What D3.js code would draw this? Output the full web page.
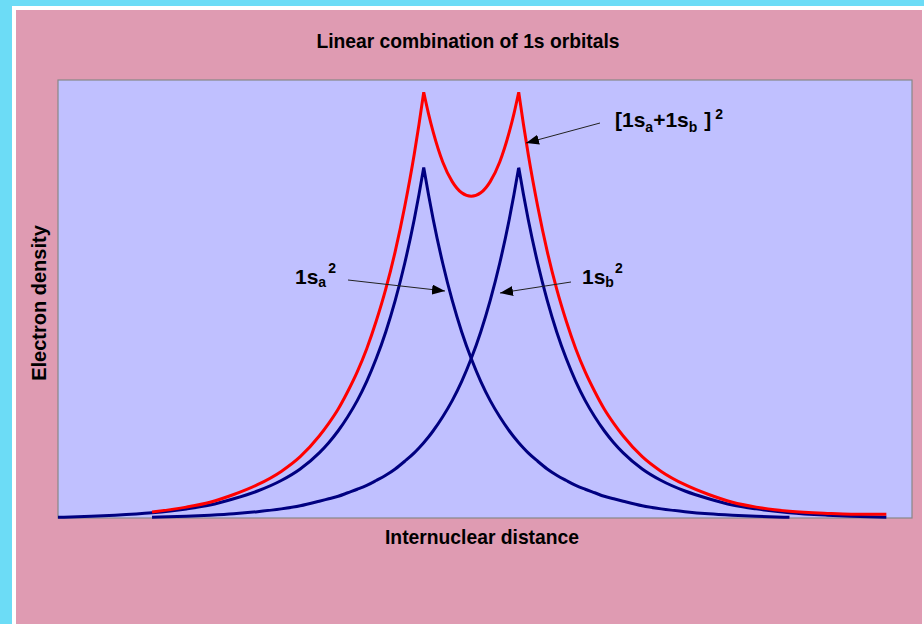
<!DOCTYPE html>
<html>
<head>
<meta charset="utf-8">
<script src="https://cdn.jsdelivr.net/npm/d3@7"></script>
<style>
  html, body { margin: 0; padding: 0; background: #6cdcf6; }
  svg { display: block; }
  text { font-family: "Liberation Sans", Arial, sans-serif; font-weight: bold; fill: #000; }
</style>
</head>
<body>
<svg id="chart" width="924" height="624"></svg>
<script>
// ---- data ----
const titleText = "Linear combination of 1s orbitals";
const xAxisLabel = "Internuclear distance";
const yAxisLabel = "Electron density";

// internuclear-axis positions (nuclei at -0.5 and +0.5)
const xPositions = [-4.35, -4.0, -3.75, -3.36, -3.0, -2.75, -2.5, -2.25, -2.0, -1.8, -1.6, -1.5, -1.4, -1.3, -1.2, -1.1,
  -1.0, -0.9, -0.8, -0.7, -0.6, -0.55, -0.5, -0.45, -0.4, -0.3, -0.2, -0.1, 0, 0.1, 0.2, 0.3, 0.4, 0.45, 0.5, 0.55,
  0.6, 0.7, 0.8, 0.9, 1.0, 1.1, 1.2, 1.3, 1.4, 1.5, 1.6, 1.8, 2.0, 2.25, 2.5, 2.75, 3.0, 3.35, 3.75, 4.0, 4.37];

const density1sA = [0.002, 0.005, 0.008, 0.015, 0.026, 0.037, 0.055, 0.077, 0.107, 0.140, 0.186, 0.215, 0.249, 0.289, 0.335, 0.390,
  0.455, 0.531, 0.621, 0.727, 0.852, 0.923, 1.0, 0.923, 0.852, 0.727, 0.621, 0.531, 0.455, 0.390, 0.335, 0.289, 0.249, 0.231, 0.215, 0.200,
  0.186, 0.162, 0.140, 0.122, 0.107, 0.093, 0.082, 0.072, 0.062, 0.055, 0.048, 0.035, 0.026, 0.018, 0.012, 0.008, 0.005, 0.002, null, null, null];

const density1sB = [null, null, null, 0.002, 0.005, 0.008, 0.012, 0.018, 0.026, 0.035, 0.048, 0.055, 0.062, 0.072, 0.082, 0.093,
  0.107, 0.122, 0.140, 0.162, 0.186, 0.200, 0.215, 0.231, 0.249, 0.289, 0.335, 0.390, 0.455, 0.531, 0.621, 0.727, 0.852, 0.923, 1.0, 0.923,
  0.852, 0.727, 0.621, 0.531, 0.455, 0.390, 0.335, 0.289, 0.249, 0.215, 0.186, 0.140, 0.107, 0.077, 0.055, 0.037, 0.026, 0.015, 0.008, 0.005, 0.002];

const densityCombined = [null, null, null, 0.017, 0.031, 0.045, 0.067, 0.095, 0.133, 0.175, 0.234, 0.270, 0.311, 0.361, 0.417, 0.483,
  0.562, 0.653, 0.761, 0.889, 1.038, 1.123, 1.215, 1.154, 1.101, 1.016, 0.960, 0.928, 0.918, 0.928, 0.960, 1.016, 1.101, 1.154, 1.215, 1.123,
  1.038, 0.889, 0.761, 0.653, 0.562, 0.483, 0.417, 0.361, 0.311, 0.270, 0.234, 0.175, 0.133, 0.095, 0.067, 0.045, 0.031, 0.019, 0.013, 0.011, 0.011];

const xDomain = [-4.35, 4.64];
const yDomain = [0, 1.25];

// ---- drawing ----
const svg = d3.select("#chart");
const W = 924, H = 624;

// frame: cyan page, white border line, pink panel
svg.append("rect").attr("x", 0).attr("y", 0).attr("width", W).attr("height", H).attr("fill", "#6cdcf6");
svg.append("rect").attr("x", 12).attr("y", 6).attr("width", W - 12).attr("height", H - 6).attr("fill", "#ffffff");
svg.append("rect").attr("x", 16).attr("y", 10).attr("width", 906).attr("height", H - 10).attr("fill", "#df9bb2");

const plot = { left: 58, top: 80, right: 912, bottom: 518 };
const x = d3.scaleLinear().domain(xDomain).range([plot.left, plot.right]);
const y = d3.scaleLinear().domain(yDomain).range([plot.bottom, plot.top]);

svg.append("rect")
  .attr("x", plot.left).attr("y", plot.top)
  .attr("width", plot.right - plot.left).attr("height", plot.bottom - plot.top)
  .attr("fill", "#c0c0ff").attr("stroke", "#888888").attr("stroke-width", 1.2);

// split a series at its cusps (local maxima) so each smooth piece is drawn with a monotone curve
function pieces(values) {
  const pts = xPositions.map((xp, i) => ({ x: xp, v: values[i] })).filter(d => d.v !== null);
  const out = [];
  let cur = [pts[0]];
  for (let i = 1; i < pts.length; i++) {
    cur.push(pts[i]);
    const isPeak = i < pts.length - 1 && pts[i].v > pts[i - 1].v && pts[i].v > pts[i + 1].v;
    if (isPeak) { out.push(cur); cur = [pts[i]]; }
  }
  out.push(cur);
  return out;
}
const line = d3.line()
  .x(d => x(d.x))
  .y(d => y(d.v))
  .curve(d3.curveMonotoneX);

function drawSeries(values, color) {
  const path = pieces(values).map(p => line(p)).join("");
  svg.append("path").attr("d", path).attr("fill", "none")
    .attr("stroke", color).attr("stroke-width", 3)
    .attr("stroke-linejoin", "miter").attr("stroke-linecap", "butt");
}
drawSeries(density1sA, "#000080");
drawSeries(density1sB, "#000080");
drawSeries(densityCombined, "#ff0000");

// titles
svg.append("text").attr("x", 468).attr("y", 48).attr("text-anchor", "middle")
  .style("font-size", "19.3px").text(titleText);
svg.append("text").attr("x", 482).attr("y", 544).attr("text-anchor", "middle")
  .style("font-size", "19.3px").text(xAxisLabel);
svg.append("text").attr("transform", "translate(46,303) rotate(-90)").attr("text-anchor", "middle")
  .style("font-size", "20px").text(yAxisLabel);

// arrow marker
const defs = svg.append("defs");
defs.append("marker").attr("id", "ah")
  .attr("viewBox", "0 0 13 10").attr("refX", 13).attr("refY", 5)
  .attr("markerWidth", 13).attr("markerHeight", 10)
  .attr("markerUnits", "userSpaceOnUse").attr("orient", "auto")
  .append("path").attr("d", "M0,0 L13,5 L0,10 Z").attr("fill", "#000");

function arrow(x1, y1, x2, y2) {
  svg.append("line").attr("x1", x1).attr("y1", y1).attr("x2", x2).attr("y2", y2)
    .attr("stroke", "#222").attr("stroke-width", 1).attr("marker-end", "url(#ah)");
}
arrow(600, 123, 526, 143);
arrow(348, 280, 445, 291);
arrow(571, 282, 500, 293);

// annotation labels
const lblC = svg.append("text").attr("x", 615).attr("y", 127).style("font-size", "21px");
lblC.append("tspan").text("[1s");
lblC.append("tspan").attr("dy", 4.5).style("font-size", "14px").text("a");
lblC.append("tspan").attr("dy", -4.5).text("+1s");
lblC.append("tspan").attr("dy", 4.5).style("font-size", "14px").text("b");
lblC.append("tspan").attr("dy", -4.5).attr("dx", 7).text("]");
lblC.append("tspan").attr("dy", -8).attr("dx", 4).style("font-size", "14px").text("2");

const lblA = svg.append("text").attr("x", 295).attr("y", 284).style("font-size", "21px");
lblA.append("tspan").text("1s");
lblA.append("tspan").attr("dy", 3).style("font-size", "14px").text("a");
lblA.append("tspan").attr("dy", -14).attr("dx", 2).style("font-size", "14px").text("2");

const lblB = svg.append("text").attr("x", 582).attr("y", 284).style("font-size", "21px");
lblB.append("tspan").text("1s");
lblB.append("tspan").attr("dy", 3).style("font-size", "14px").text("b");
lblB.append("tspan").attr("dy", -14).attr("dx", 1).style("font-size", "14px").text("2");
</script>
</body>
</html>
